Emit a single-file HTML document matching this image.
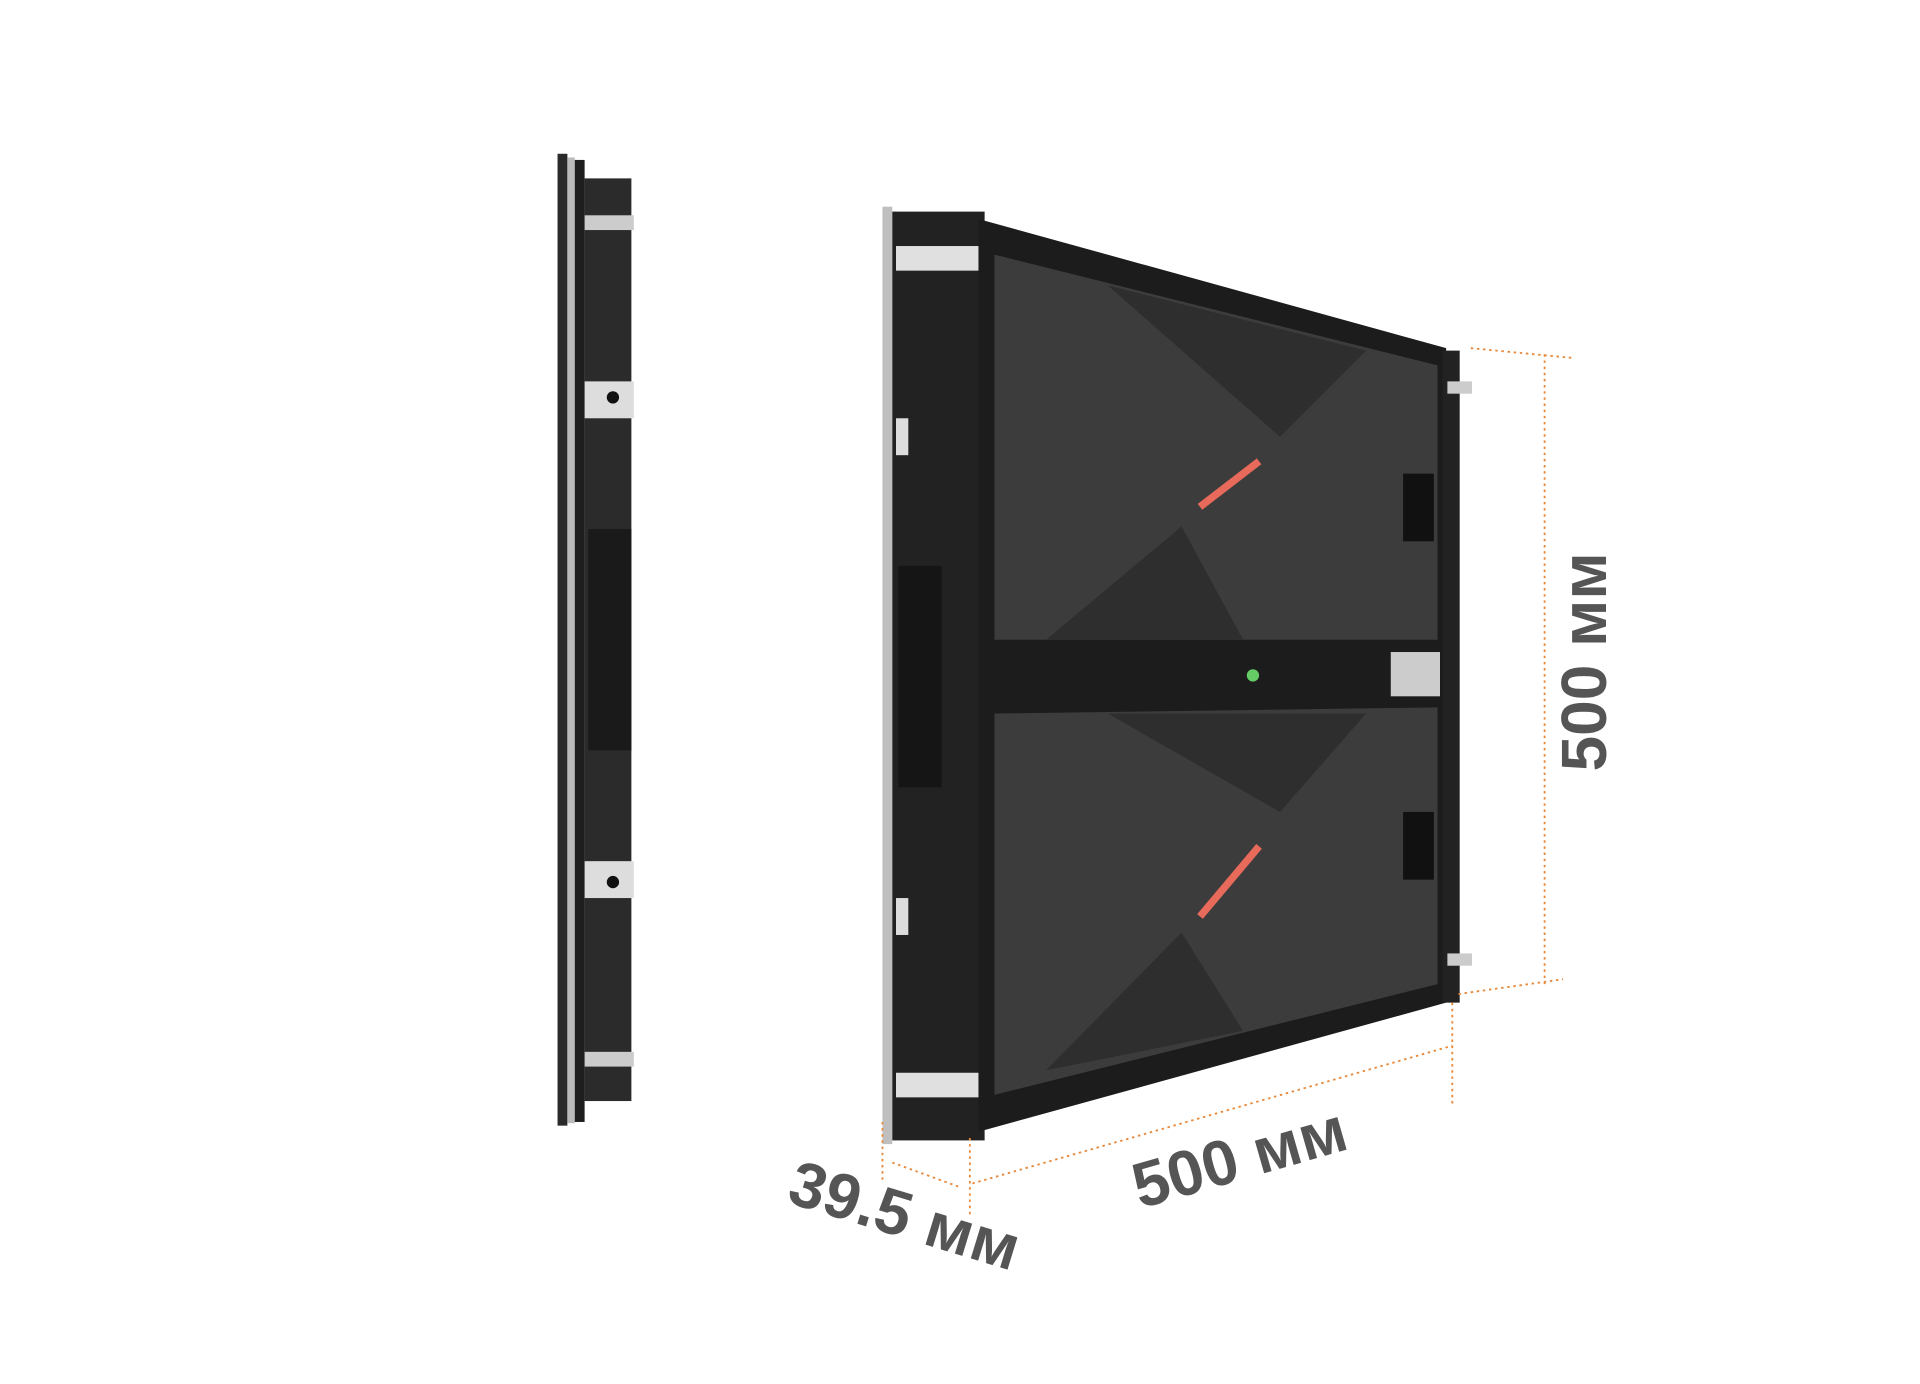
<!DOCTYPE html>
<html><head><meta charset="utf-8"><style>
html,body{margin:0;padding:0;background:#fff;}
svg{display:block;}
</style></head><body>
<svg width="1920" height="1384" viewBox="0 0 1560 1125" preserveAspectRatio="none" xmlns="http://www.w3.org/2000/svg">
<rect width="1560" height="1125" fill="#fff"/>
<!-- side panel -->
<rect x="453" y="125" width="8" height="790" fill="#2a2a2a"/>
<rect x="461" y="128" width="6" height="785" fill="#bbb"/>
<rect x="467" y="130" width="8" height="782" fill="#1e1e1e"/>
<rect x="475" y="145" width="38" height="750" fill="#2b2b2b"/>
<rect x="475" y="175" width="40" height="12" fill="#ccc"/>
<rect x="475" y="310" width="40" height="30" fill="#ddd"/>
<rect x="475" y="700" width="40" height="30" fill="#ddd"/>
<rect x="475" y="855" width="40" height="12" fill="#ccc"/>
<rect x="478" y="430" width="35" height="180" fill="#1a1a1a"/>
<circle cx="498" cy="323" r="5" fill="#111"/>
<circle cx="498" cy="717" r="5" fill="#111"/>
<!-- main left frame -->
<rect x="717" y="168" width="8" height="762" fill="#bfbfbf"/>
<rect x="725" y="172" width="75" height="755" fill="#222"/>
<rect x="728" y="200" width="70" height="20" fill="#e0e0e0"/>
<rect x="728" y="872" width="70" height="20" fill="#e0e0e0"/>
<rect x="730" y="460" width="35" height="180" fill="#151515"/>
<rect x="728" y="340" width="10" height="30" fill="#ddd"/>
<rect x="728" y="730" width="10" height="30" fill="#ddd"/>
<!-- body -->
<polygon points="795,178 1175,283 1175,815 795,920" fill="#1c1c1c"/>
<polygon points="808,207 1168,297 1168,520 808,520" fill="#3c3c3c"/>
<polygon points="808,580 1168,575 1168,800 808,890" fill="#3c3c3c"/>
<polygon points="900,232 1110,285 1040,355" fill="#2e2e2e"/>
<polygon points="960,428 1010,520 850,520" fill="#2e2e2e"/>
<polygon points="900,580 1110,580 1040,660" fill="#2e2e2e"/>
<polygon points="960,758 1010,838 850,870" fill="#2e2e2e"/>
<line x1="975" y1="412" x2="1023" y2="375" stroke="#e86a5a" stroke-width="6"/>
<line x1="975" y1="745" x2="1023" y2="688" stroke="#e86a5a" stroke-width="6"/>
<circle cx="1018" cy="549" r="5" fill="#6c6"/>
<rect x="1130" y="530" width="40" height="36" fill="#ccc"/>
<rect x="1140" y="385" width="25" height="55" fill="#111"/>
<rect x="1140" y="660" width="25" height="55" fill="#111"/>
<rect x="1172" y="285" width="14" height="530" fill="#222"/>
<rect x="1176" y="310" width="20" height="10" fill="#ccc"/>
<rect x="1176" y="775" width="20" height="10" fill="#ccc"/>
<!-- dimension lines -->
<g stroke="#e8893a" stroke-width="1.5" stroke-dasharray="2,3" fill="none">
<line x1="1195" y1="283" x2="1278" y2="291"/>
<line x1="1185" y1="808" x2="1270" y2="796"/>
<line x1="1255" y1="288" x2="1255" y2="802"/>
<line x1="1180" y1="815" x2="1180" y2="900"/>
<line x1="788" y1="925" x2="788" y2="990"/>
<line x1="717" y1="912" x2="717" y2="960"/>
<line x1="790" y1="962" x2="1180" y2="850"/>
<line x1="725" y1="945" x2="780" y2="965"/>
</g>
<g font-family="Liberation Sans, sans-serif" font-weight="bold" font-size="52" fill="#555">
<text transform="translate(1305,538) rotate(-90)" text-anchor="middle">500 мм</text>
<text transform="translate(1012,958) rotate(-16)" text-anchor="middle">500 мм</text>
<text transform="translate(730,1005) rotate(17)" text-anchor="middle">39.5 мм</text>
</g>
</svg>
</body></html>
